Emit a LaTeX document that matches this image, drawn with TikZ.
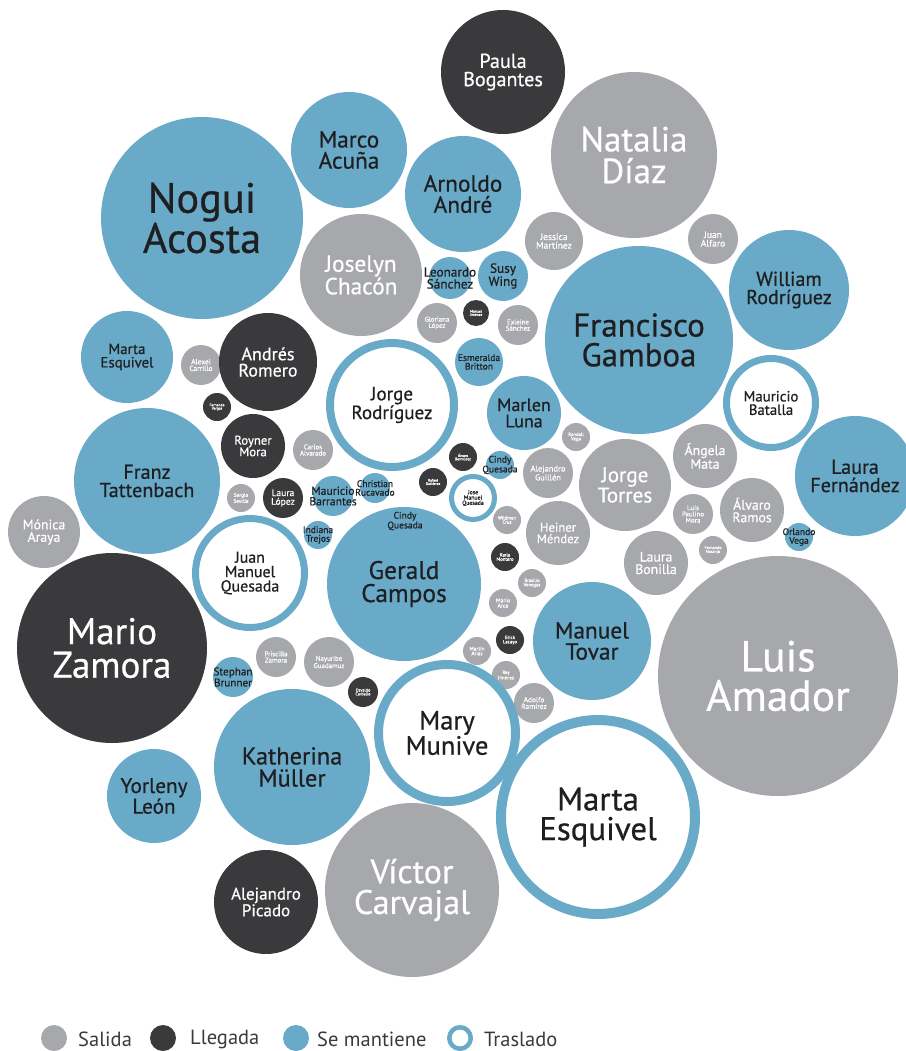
\documentclass[tikz,border=0pt]{standalone}
\usepackage{fontspec}
\setmainfont{PT Sans}[FakeBold=0.6]
\newfontfamily\legfont{PT Sans}
\definecolor{cS}{HTML}{A7A8AB}
\definecolor{cL}{HTML}{3A3A3C}
\definecolor{cM}{HTML}{68AAC8}
\definecolor{tx}{HTML}{1F1F21}
\pgfdeclarelayer{fg}
\pgfsetlayers{main,fg}
\tikzset{
  S/.style={fill=cS}, L/.style={fill=cL}, M/.style={fill=cM},
  Stxt/.style={text=white}, Ltxt/.style={text=white}, Mtxt/.style={text=tx}, Ttxt/.style={text=tx},
  lab/.style={align=center, inner sep=0pt},
}
\newcommand\fsz[1]{\fontsize{\fpeval{1.06*#1}}{\fpeval{0.96*#1}}\selectfont}
% style, name, x, y, r, size, text
\newcommand\bub[7]{%
  \path[#1] (#3,#4) circle[radius=#5];
  \begin{pgfonlayer}{fg}
  \node[lab,#1txt,font=\fsz{#6}] (#2) at (#3,#4) {#7};
  \end{pgfonlayer}}
% name, x, y, r, w, size, text
\newcommand\ring[7]{%
  \draw[cM, line width=#5pt, fill=white] (#2,#3) circle[radius=#4-#5/2];
  \begin{pgfonlayer}{fg}
  \node[lab,Ttxt,font=\fsz{#6}] (#1) at (#2,#3) {#7};
  \end{pgfonlayer}}
\begin{document}
\begin{tikzpicture}[x=1pt,y=-1pt]
\useasboundingbox (0,0) rectangle (905,1051);
% Salida
\bub{S}{natalia}{634}{155}{83}{33}{Natalia\\Díaz}
\bub{S}{joselyn}{361}{275}{61}{22}{Joselyn\\Chacón}
\bub{S}{jessica}{554}{241}{29}{9}{Jessica\\Martínez}
\bub{S}{alfaro}{713}{239}{25}{9}{Juan\\Alfaro}
\bub{S}{gloriana}{437}{323}{20}{6.5}{Gloriana\\López}
\bub{S}{exleine}{518}{325}{20}{6.5}{Exleine\\Sánchez}
\bub{S}{alexei}{201}{365}{20}{7}{Alexei\\Carrillo}
\bub{S}{carlos}{313}{450}{20}{6.5}{Carlos\\Alvarado}
\bub{S}{sergio}{241}{498}{14}{5}{Sergio\\Sevilla}
\bub{S}{monica}{44}{532}{36}{13}{Mónica\\Araya}
\bub{S}{randall}{576}{437}{14}{4.5}{Randall\\Vega}
\bub{S}{guillen}{548}{473}{25}{8}{Alejandro\\Guillén}
\bub{S}{torres}{625}{485}{46}{20}{Jorge\\Torres}
\bub{S}{angela}{705}{456}{32}{13}{Ángela\\Mata}
\bub{S}{alvaro}{752}{510}{32}{13}{Álvaro\\Ramos}
\bub{S}{lpm}{693}{514}{20}{6.5}{Luis\\Paulino\\Mora}
\bub{S}{naranjo}{713}{550}{14}{4}{Fernando\\Naranjo}
\bub{S}{bonilla}{656}{563}{32}{13}{Laura\\Bonilla}
\bub{S}{amador}{778}{676}{120}{41}{Luis\\Amador}
\bub{S}{wildman}{507}{520}{14}{4.5}{Wildman\\Cruz}
\bub{S}{heiner}{558}{533}{32}{12}{Heiner\\Méndez}
\bub{S}{brasilio}{532}{583}{14}{4.5}{Brasilio\\Venegas}
\bub{S}{arce}{503}{603}{14}{5.5}{Mario\\Arce}
\bub{S}{arias}{477}{651}{14}{5}{Martín\\Arias}
\bub{S}{rey}{506}{675}{14}{4.5}{Rey\\Jiménez}
\bub{S}{adolfo}{534}{703}{20}{7}{Adolfo\\Ramírez}
\bub{S}{priscilla}{276}{657}{20}{6.5}{Priscilla\\Zamora}
\bub{S}{nayuribe}{329}{662}{25}{6.5}{Nayuribe\\Guadamuz}
\bub{S}{victor}{412}{890}{87}{32}{Víctor\\Carvajal}
% Llegada
\bub{L}{paula}{503}{72}{62}{19}{Paula\\Bogantes}
\bub{L}{mjimenez}{476}{313}{13}{3.5}{Manuel\\Jiménez}
\bub{L}{andres}{268}{362}{49}{17}{Andrés\\Romero}
\bub{L}{fvargas}{217}{407}{14}{3.5}{Fernando\\Vargas}
\bub{L}{royner}{253}{446}{32}{12}{Royner\\Mora}
\bub{L}{llopez}{283}{498}{20}{9}{Laura\\López}
\bub{L}{bermudez}{463}{457}{14}{3.5}{Álvaro\\Bermúdez}
\bub{L}{rafael}{433}{482}{14}{3.5}{Rafael\\Gutiérrez}
\bub{L}{karla}{505}{557}{14}{4.5}{Karla\\Montero}
\bub{L}{erick}{510}{640}{14}{4.5}{Erick\\Lacayo}
\bub{L}{osvaldo}{363}{692}{15}{4}{Osvaldo\\Carballo}
\bub{L}{mzamora}{112}{648}{95}{35}{Mario\\Zamora}
\bub{L}{picado}{266}{902}{52}{16}{Alejandro\\Picado}
% Se mantiene
\bub{M}{nogui}{202}{218}{101}{40}{Nogui\\Acosta}
\bub{M}{acuna}{349}{150}{58}{22}{Marco\\Acuña}
\bub{M}{arnoldo}{463}{194}{58}{22}{Arnoldo\\André}
\bub{M}{william}{789}{290}{60}{19}{William\\Rodríguez}
\bub{M}{gamboa}{639}{340}{94}{31}{Francisco\\Gamboa}
\bub{M}{leonardo}{450}{278}{21}{12.5}{Leonardo\\Sánchez}
\bub{M}{susy}{503}{276}{25}{12.5}{Susy\\Wing}
\bub{M}{esmeralda}{479}{362}{24}{9}{Esmeralda\\Britton}
\bub{M}{mesq}{127}{357}{46}{14}{Marta\\Esquivel}
\bub{M}{marlen}{524}{413}{37}{17}{Marlen\\Luna}
\bub{M}{lfernandez}{855}{476}{60}{19}{Laura\\Fernández}
\bub{M}{franz}{147}{481}{73}{19}{Franz\\Tattenbach}
\bub{M}{barrantes}{333}{496}{20}{11}{Mauricio\\Barrantes}
\bub{M}{christian}{375}{488}{15}{9}{Christian\\Rucavado}
\bub{M}{indiana}{318}{535}{14}{9}{Indiana\\Trejos}
\bub{M}{cindy}{500}{465}{14}{9}{Cindy\\Quesada}
\bub{M}{orlando}{799}{537}{14}{9}{Orlando\\Vega}
\bub{M}{gerald}{404}{584}{77}{24}{Gerald\\Campos}
\bub{M}{tovar}{592}{641}{59}{22}{Manuel\\Tovar}
\bub{M}{stephan}{233}{677}{20}{10.5}{Stephan\\Brunner}
\bub{M}{katherina}{292}{767}{78}{23}{Katherina\\Müller}
\bub{M}{yorleny}{154}{796}{47}{20}{Yorleny\\León}
\begin{pgfonlayer}{fg}
\node[lab,Mtxt,font=\fsz{9}] (cindy2) at (405,521) {Cindy\\Quesada};
\end{pgfonlayer}
% Traslado
\ring{jrodriguez}{392}{405}{66}{8}{18}{Jorge\\Rodríguez}
\ring{batalla}{771}{403}{48}{7}{14}{Mauricio\\Batalla}
\ring{jmq}{473}{498}{24}{5}{5.5}{Jose\\Manuel\\Quesada}
\ring{jmq2}{250}{573}{58}{7}{15}{Juan\\Manuel\\Quesada}
\ring{mary}{447}{733}{73}{9}{25}{Mary\\Munive}
\ring{mesq2}{598}{817}{102}{10}{31}{Marta\\Esquivel}
% legend
\tikzset{leg/.style={anchor=west, inner sep=0pt, text=cL, font=\legfont\fontsize{20.5}{20.5}\selectfont}}
\fill[cS] (54,1038) circle[radius=13];
\node[leg] (l1) at (78,1039) {Salida};
\fill[cL] (163,1038) circle[radius=13];
\node[leg] (l2) at (190,1039) {Llegada};
\fill[cM] (296,1038) circle[radius=13];
\node[leg] (l3) at (317,1039) {Se mantiene};
\draw[cM, line width=4.5pt, fill=white] (460,1038) circle[radius=10.75];
\node[leg] (l4) at (484,1039) {Traslado};
\end{tikzpicture}
\end{document}
